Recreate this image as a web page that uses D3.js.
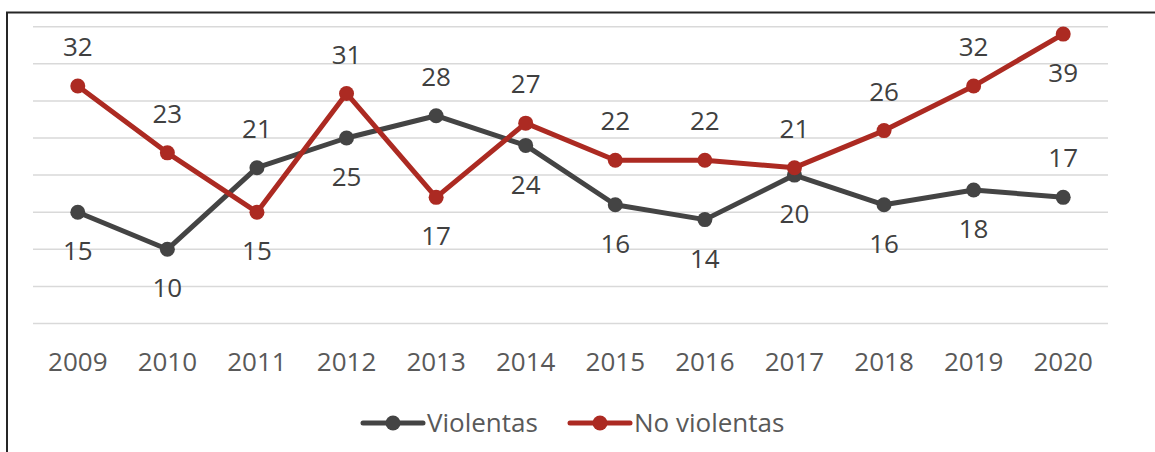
<!DOCTYPE html>
<html>
<head>
<meta charset="utf-8">
<script src="https://cdn.jsdelivr.net/npm/d3@7"></script>
<style>
  body { margin: 0; background: #fff; }
  text { font-family: "Open Sans", "Noto Sans", sans-serif; }
</style>
</head>
<body>
<div id="chart"></div>
<script>
const years = ['2009', '2010', '2011', '2012', '2013', '2014', '2015', '2016', '2017', '2018', '2019', '2020'];
const violentas = [15, 10, 21, 25, 28, 24, 16, 14, 20, 16, 18, 17];
const noViolentas = [32, 23, 15, 31, 17, 27, 22, 22, 21, 26, 32, 39];
const yTicks = [0, 5, 10, 15, 20, 25, 30, 35, 40];

const series = [
  { name: 'Violentas', values: violentas, color: '#444444' },
  { name: 'No violentas', values: noViolentas, color: '#ac2a22' }
];

const width = 1155;
const height = 452;

const svg = d3.select('#chart')
  .append('svg')
  .attr('width', width)
  .attr('height', height);

// frame (only top and left edges show)
svg.append('path')
  .attr('d', `M7,${height} V12.5 H${width}`)
  .attr('fill', 'none')
  .attr('stroke', '#262626')
  .attr('stroke-width', 2);

const x = d3.scaleBand()
  .domain(years)
  .range([33, 1108])
  .padding(0);

const y = d3.scaleLinear()
  .domain([0, 40])
  .range([323.5, 26.7]);

const cx = d => x(d) + x.bandwidth() / 2;

// gridlines
svg.append('g')
  .selectAll('line')
  .data(yTicks)
  .join('line')
    .attr('x1', 33)
    .attr('x2', 1108)
    .attr('y1', d => y(d))
    .attr('y2', d => y(d))
    .attr('stroke', '#d9d9d9')
    .attr('stroke-width', 1.5);

// x axis labels
svg.append('g')
  .attr('transform', 'translate(0,362)')
  .call(d3.axisBottom(x).tickSize(0).tickPadding(0))
  .call(g => g.select('.domain').remove())
  .call(g => g.selectAll('text')
    .attr('dy', '0.35em')
    .attr('font-size', '26px')
    .attr('font-family', '"Open Sans", sans-serif')
    .attr('fill', '#595959'));

const line = d3.line()
  .x((d, i) => cx(years[i]))
  .y(d => y(d));

series.forEach(s => {
  svg.append('path')
    .datum(s.values)
    .attr('fill', 'none')
    .attr('stroke', s.color)
    .attr('stroke-width', 5)
    .attr('stroke-linejoin', 'round')
    .attr('d', line);

  svg.append('g')
    .selectAll('circle')
    .data(s.values)
    .join('circle')
      .attr('cx', (d, i) => cx(years[i]))
      .attr('cy', d => y(d))
      .attr('r', 7.5)
      .attr('fill', s.color);
});

// data labels: higher series above, lower below; swap if it would leave the plot
const off = 39;
series.forEach((s, si) => {
  const other = series[1 - si].values;
  svg.append('g')
    .selectAll('text')
    .data(s.values)
    .join('text')
      .attr('x', (d, i) => cx(years[i]))
      .attr('y', (d, i) => {
        let above = d >= other[i];
        const hi = Math.max(d, other[i]);
        if (y(hi) - off < 20) above = !above;
        return above ? y(d) - off : y(d) + off;
      })
      .attr('dy', '0.35em')
      .attr('text-anchor', 'middle')
      .attr('font-size', '26px')
      .attr('fill', '#404040')
      .text(d => d);
});

// legend
const legend = svg.append('g')
  .attr('transform', 'translate(0,423)');

const legendX = [363, 570];
series.forEach((s, i) => {
  const g = legend.append('g').attr('transform', `translate(${legendX[i]},0)`);
  g.append('line')
    .attr('x1', 0).attr('x2', 60)
    .attr('stroke', s.color)
    .attr('stroke-width', 5)
    .attr('stroke-linecap', 'round');
  g.append('circle')
    .attr('cx', 30)
    .attr('r', 7.5)
    .attr('fill', s.color);
  g.append('text')
    .attr('x', 64)
    .attr('dy', '0.35em')
    .attr('font-size', '26px')
    .attr('fill', '#595959')
    .text(s.name);
});
</script>
</body>
</html>
